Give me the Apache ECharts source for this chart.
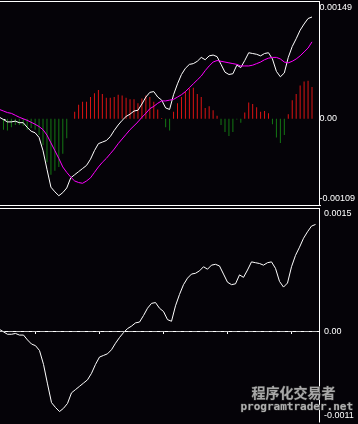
<!DOCTYPE html>
<html>
<head>
<meta charset="utf-8">
<script src="https://cdn.jsdelivr.net/npm/echarts@6/dist/echarts.min.js"></script>
<style>
  html, body { margin: 0; padding: 0; background: #050308; }
  #chart { width: 358px; height: 424px; }
</style>
</head>
<body>
<div id="chart"></div>
<script>
// bar numbers (one per candle, -1 is half hidden at the left edge)
const barIndex = [-1, 0, 1, 2, 3, 4, 5, 6, 7, 8, 9,
  10, 11, 12, 13, 14, 15, 16, 17, 18, 19,
  20, 21, 22, 23, 24, 25, 26, 27, 28, 29,
  30, 31, 32, 33, 34, 35, 36, 37, 38, 39,
  40, 41, 42, 43, 44, 45, 46, 47, 48, 49,
  50, 51, 52, 53, 54, 55, 56, 57, 58, 59,
  60, 61, 62, 63, 64, 65, 66, 67, 68, 69,
  70, 71, 72, 73, 74, 75, 76, 77, 78]

// main line (white) - shown in both panes
const macdLine = [0.00002, -0.00001, -0.00004, -0.00004, -0.00003, -0.00005, -0.00005, -0.00011, -0.00016, -0.00018, -0.00024,
  -0.00041, -0.00065, -0.00088, -0.00094, -0.00099, -0.00095, -0.00089, -0.00076, -0.00072, -0.00068,
  -0.00064, -0.00060, -0.00052, -0.00041, -0.00032, -0.00030, -0.00028, -0.00023, -0.00015, -0.00008,
  -0.00002, 0.00003, 0.00006, 0.00010, 0.00011, 0.00019, 0.00028, 0.00034, 0.00035, 0.00028,
  0.00024, 0.00014, 0.00012, 0.00031, 0.00045, 0.00057, 0.00065, 0.00070, 0.00071, 0.00074,
  0.00079, 0.00076, 0.00081, 0.00082, 0.00080, 0.00070, 0.00060, 0.00057, 0.00058, 0.00069,
  0.00066, 0.00075, 0.00085, 0.00084, 0.00083, 0.00081, 0.00084, 0.00085, 0.00077, 0.00061,
  0.00054, 0.00059, 0.00079, 0.00093, 0.00103, 0.00114, 0.00122, 0.00129, 0.00131]

// signal line (magenta)
const signalLine = [0.00012, 0.00010, 0.00008, 0.00007, 0.000045, 0.00002, 0.0, -0.00002, -0.000045, -0.00007, -0.00010,
  -0.00014, -0.00021, -0.00031, -0.00041, -0.00051, -0.00062, -0.00069, -0.00075, -0.00080, -0.00082,
  -0.00083, -0.00080, -0.00076, -0.00069, -0.00062, -0.00056, -0.00051, -0.00045, -0.00039, -0.00032,
  -0.00026, -0.00020, -0.00014, -0.00009, -0.00004, 0.00002, 0.00007, 0.00013, 0.00016, 0.00020,
  0.00023, 0.00023, 0.00024, 0.00025, 0.00028, 0.00031, 0.00035, 0.00040, 0.00045, 0.00050,
  0.00055, 0.00062, 0.00068, 0.00073, 0.00075, 0.00074, 0.00073, 0.00072, 0.00071, 0.00070,
  0.00068, 0.00068, 0.00068, 0.00069, 0.00071, 0.00073, 0.00076, 0.00078, 0.00079, 0.00079,
  0.00077, 0.00073, 0.00072, 0.00074, 0.00077, 0.00081, 0.00086, 0.00091, 0.00099]

// histogram (red up / green down)
const histValues = [null, -0.00014, -0.00015, -0.00011, -0.00008, -0.00008, -0.00009, -0.00014, -0.00012, -0.00014, -0.00021,
  -0.00034, -0.00056, -0.00072, -0.00067, -0.00062, -0.00045, -0.00025, 0, 0.00009, 0.00018,
  0.00022, 0.00022, 0.00028, 0.00033, 0.00037, 0.00032, 0.00027, 0.00027, 0.00028, 0.00031,
  0.00030, 0.00027, 0.00025, 0.00025, 0.00020, 0.00026, 0.00030, 0.00028, 0.00022, 0.00012,
  0.00001, -0.00011, -0.00015, 0.00009, 0.00020, 0.00028, 0.00035, 0.00039, 0.00040, 0.00032,
  0.00028, 0.00014, 0.00016, 0.00011, 0.00004, -0.00008, -0.00017, -0.00022, -0.00017, -0.00001,
  -0.00005, 0.00008, 0.00021, 0.00019, 0.00015, 0.00009, 0.00010, 0.00007, -0.00007, -0.00024,
  -0.00031, -0.00021, 0.00006, 0.00024, 0.00032, 0.00043, 0.00048, 0.00049, 0.00041]

// scale labels
const topTicks = [-0.00109, 0, 0.00149]
const bottomTicks = [-0.0011, 0, 0.0015]
const zeroTick = [0]
// small marks under the lower pane
const timeTicks = [8, 24, 40, 56, 72]

const chart = echarts.init(document.getElementById('chart'))

const labelFont = 'Liberation Sans, Arial, sans-serif'
const rich = {
  t: { color: '#fff', fontSize: 9, fontFamily: labelFont, padding: [10, 0, 0, 0] },
  m: { color: '#fff', fontSize: 9, fontFamily: labelFont },
  b: { color: '#fff', fontSize: 9, fontFamily: labelFont, padding: [0, 0, 9, 0] }
}
const makeFormatter = (digits) => (v) => {
  if (v > 0) return '{t|' + v.toFixed(digits) + '}'
  if (v < 0) return '{b|' + v.toFixed(digits) + '}'
  return '{m|0.00}'
}

const pairs = (vals) => barIndex.map((x, k) => [x, vals[k]])

const xBase = {
  type: 'value',
  min: -0.875,
  max: 78.875,
  axisLabel: { show: false },
  splitLine: { show: false }
}

const frameStyle = { stroke: '#ffffff', lineWidth: 1 }

const option = {
  backgroundColor: '#050308',
  animation: false,
  grid: [
    { left: 0, right: 39, top: 3, height: 200.5 },
    { left: 0, right: 39, top: 209, height: 211.5 }
  ],
  xAxis: [
    { ...xBase, gridIndex: 0, axisLine: { show: false }, axisTick: { show: false } },
    {
      ...xBase, gridIndex: 1, position: 'bottom', offset: 2,
      axisLine: { show: true, lineStyle: { color: '#fff', width: 1 } },
      axisTick: { show: true, customValues: timeTicks, length: 3, lineStyle: { color: '#fff' } }
    }
  ],
  yAxis: [
    {
      type: 'value', gridIndex: 0, position: 'right',
      min: -0.00109, max: 0.00149,
      axisLine: { show: false }, splitLine: { show: false },
      axisTick: { show: true, customValues: zeroTick, length: 2, lineStyle: { color: '#fff' } },
      axisLabel: { customValues: topTicks, margin: 4, formatter: makeFormatter(5), rich }
    },
    {
      type: 'value', gridIndex: 1, position: 'right',
      min: -0.0011, max: 0.0015,
      axisLine: { show: false }, splitLine: { show: false },
      axisTick: { show: true, customValues: zeroTick, length: 2, lineStyle: { color: '#fff' } },
      axisLabel: { customValues: bottomTicks, margin: 5, formatter: makeFormatter(4), rich }
    }
  ],
  series: [
    {
      type: 'bar', xAxisIndex: 0, yAxisIndex: 0,
      data: pairs(histValues),
      barWidth: 1,
      itemStyle: {
        color: (p) => (p.value[1] >= 0 ? '#dc1414' : '#147814')
      }
    },
    {
      type: 'line', xAxisIndex: 0, yAxisIndex: 0,
      data: pairs(macdLine),
      showSymbol: false,
      lineStyle: { color: '#ffffff', width: 1 }
    },
    {
      type: 'line', xAxisIndex: 0, yAxisIndex: 0,
      data: pairs(signalLine),
      showSymbol: false,
      lineStyle: { color: '#ff00ff', width: 1 }
    },
    {
      type: 'line', xAxisIndex: 1, yAxisIndex: 1,
      data: pairs(macdLine),
      showSymbol: false,
      lineStyle: { color: '#ffffff', width: 1 },
      markLine: {
        silent: true,
        symbol: 'none',
        label: { show: false },
        lineStyle: { color: '#c8c8c8', type: [5, 3], width: 1 },
        data: [{ yAxis: 0 }]
      }
    }
  ],
  graphic: [
    // window frames
    { type: 'line', shape: { x1: 0, y1: 1.5, x2: 319.5, y2: 1.5 }, style: frameStyle, silent: true },
    { type: 'line', shape: { x1: 319.5, y1: 1, x2: 319.5, y2: 205.5 }, style: frameStyle, silent: true },
    { type: 'line', shape: { x1: 0, y1: 205.5, x2: 321, y2: 205.5 }, style: frameStyle, silent: true },
    { type: 'line', shape: { x1: 0, y1: 208.5, x2: 319.5, y2: 208.5 }, style: frameStyle, silent: true },
    { type: 'line', shape: { x1: 319.5, y1: 208, x2: 319.5, y2: 422.5 }, style: frameStyle, silent: true },
    // watermark
    {
      type: 'text', left: 251, top: 385, silent: true,
      style: {
        text: '程序化交易者',
        font: 'bold 14px "Noto Sans CJK SC"',
        fill: '#a8a8a8', stroke: '#2a2a2a', lineWidth: 1
      }
    },
    {
      type: 'text', left: 240, top: 401, silent: true,
      style: {
        text: 'programtrader.net',
        font: 'bold 11px "DejaVu Sans Mono"',
        fill: '#b0b0b0', stroke: '#2a2a2a', lineWidth: 1
      }
    }
  ]
}

chart.setOption(option)
</script>
</body>
</html>
